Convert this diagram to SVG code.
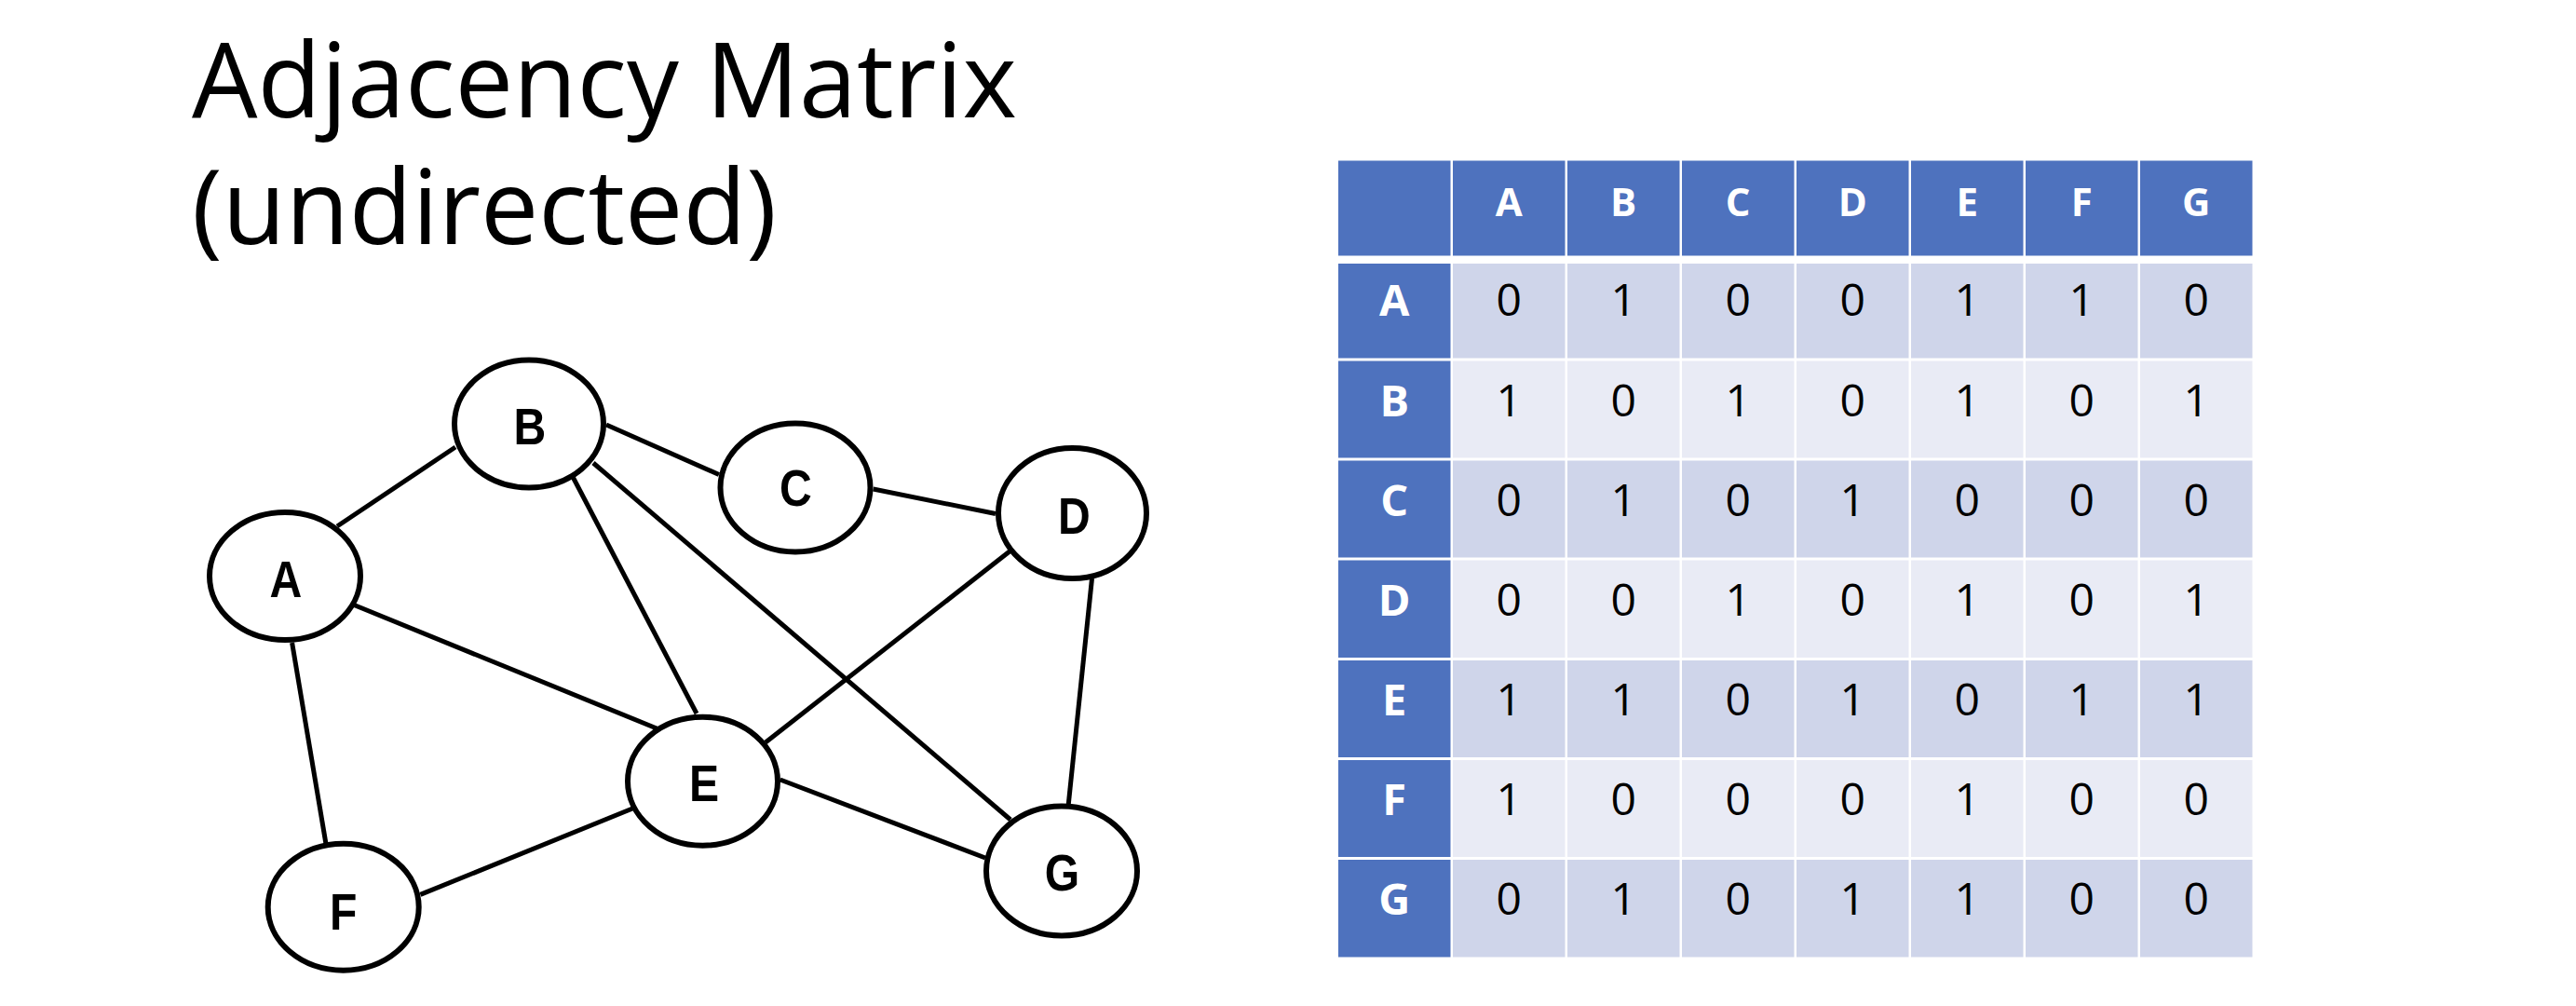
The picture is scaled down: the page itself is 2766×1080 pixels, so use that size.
<svg xmlns="http://www.w3.org/2000/svg" width="2766" height="1080" viewBox="0 0 2766 1080">
<style>
.title{font-family:"Open Sans","Liberation Sans",sans-serif;font-size:112px;font-weight:400;fill:#000}
.edge{stroke:#000;stroke-width:5;stroke-linecap:butt;fill:none}
.node ellipse{fill:#fff;stroke:#000;stroke-width:6}
.node text{font-family:"Liberation Sans",Arial,sans-serif;font-weight:bold;font-size:56px;fill:#000;text-anchor:middle}
.hd{fill:#4E72BE}
.r1{fill:#CFD5EA}
.r2{fill:#E9EBF5}
.th{font-family:"Open Sans","Liberation Sans",sans-serif;font-weight:bold;font-size:42px;fill:#fff;text-anchor:middle}
.rh{font-family:"Open Sans","Liberation Sans",sans-serif;font-weight:bold;font-size:47px;fill:#fff;text-anchor:middle}
.v{font-family:"Open Sans","Liberation Sans",sans-serif;font-size:48px;fill:#000;text-anchor:middle}
</style>
<rect width="2766" height="1080" fill="#fff"/>
<g id="title">
<text class="title" x="206" y="126" textLength="886" lengthAdjust="spacingAndGlyphs">Adjacency Matrix</text>
<text class="title" x="206" y="262" textLength="628" lengthAdjust="spacingAndGlyphs">(undirected)</text>
</g>
<g id="edges">
<line class="edge" x1="362" y1="565" x2="489" y2="480"/>
<line class="edge" x1="379" y1="649" x2="710" y2="784"/>
<line class="edge" x1="313.6" y1="690" x2="350" y2="906"/>
<line class="edge" x1="651" y1="456" x2="772" y2="509.5"/>
<line class="edge" x1="613" y1="508" x2="748" y2="766"/>
<line class="edge" x1="637" y1="497" x2="1085" y2="880"/>
<line class="edge" x1="937.6" y1="525" x2="1069" y2="551.5"/>
<line class="edge" x1="1084" y1="592" x2="822" y2="797"/>
<line class="edge" x1="1172.5" y1="621" x2="1147" y2="866"/>
<line class="edge" x1="451.4" y1="960.4" x2="680.4" y2="867.5"/>
<line class="edge" x1="837.7" y1="837" x2="1058" y2="921"/>
</g>
<g id="node-A" class="node"><ellipse cx="306" cy="618.5" rx="81" ry="68.5"/><text transform="translate(307,641) scale(0.86,1)">A</text></g>
<g id="node-B" class="node"><ellipse cx="568" cy="455" rx="80" ry="68.5"/><text transform="translate(569,477) scale(0.86,1)">B</text></g>
<g id="node-C" class="node"><ellipse cx="854" cy="523.5" rx="80.5" ry="69"/><text transform="translate(854.5,542.5) scale(0.86,1)">C</text></g>
<g id="node-D" class="node"><ellipse cx="1151.5" cy="551" rx="79.5" ry="70"/><text transform="translate(1153.5,573) scale(0.86,1)">D</text></g>
<g id="node-E" class="node"><ellipse cx="754.5" cy="838.7" rx="80.5" ry="69"/><text transform="translate(756,860) scale(0.86,1)">E</text></g>
<g id="node-F" class="node"><ellipse cx="368.7" cy="973.7" rx="81" ry="68"/><text transform="translate(368.7,997.5) scale(0.86,1)">F</text></g>
<g id="node-G" class="node"><ellipse cx="1140" cy="935" rx="81" ry="69.5"/><text transform="translate(1140.5,955.5) scale(0.86,1)">G</text></g>
<g id="matrix">
<g id="header-row">
<rect class="hd" x="1437" y="172.5" width="120.5" height="102"/>
<rect class="hd" x="1560" y="172.5" width="120.5" height="102"/>
<rect class="hd" x="1683" y="172.5" width="120.5" height="102"/>
<rect class="hd" x="1806" y="172.5" width="120.5" height="102"/>
<rect class="hd" x="1929" y="172.5" width="120.5" height="102"/>
<rect class="hd" x="2052" y="172.5" width="120.5" height="102"/>
<rect class="hd" x="2175" y="172.5" width="120.5" height="102"/>
<rect class="hd" x="2298" y="172.5" width="120.5" height="102"/>
<text class="th" x="1620.2" y="232">A</text>
<text class="th" x="1743.2" y="232">B</text>
<text class="th" x="1866.2" y="232">C</text>
<text class="th" x="1989.2" y="232">D</text>
<text class="th" x="2112.2" y="232">E</text>
<text class="th" x="2235.2" y="232">F</text>
<text class="th" x="2358.2" y="232">G</text>
</g>
<g id="row-A">
<rect class="hd" x="1437" y="283" width="120.5" height="101.5"/>
<rect class="r1" x="1560" y="283" width="120.5" height="101.5"/>
<rect class="r1" x="1683" y="283" width="120.5" height="101.5"/>
<rect class="r1" x="1806" y="283" width="120.5" height="101.5"/>
<rect class="r1" x="1929" y="283" width="120.5" height="101.5"/>
<rect class="r1" x="2052" y="283" width="120.5" height="101.5"/>
<rect class="r1" x="2175" y="283" width="120.5" height="101.5"/>
<rect class="r1" x="2298" y="283" width="120.5" height="101.5"/>
<text class="rh" x="1497.2" y="339">A</text>
<text class="v" x="1620.2" y="339">0</text><text class="v" x="1743.2" y="339">1</text><text class="v" x="1866.2" y="339">0</text><text class="v" x="1989.2" y="339">0</text><text class="v" x="2112.2" y="339">1</text><text class="v" x="2235.2" y="339">1</text><text class="v" x="2358.2" y="339">0</text>
</g>
<g id="row-B">
<rect class="hd" x="1437" y="387.5" width="120.5" height="104"/>
<rect class="r2" x="1560" y="387.5" width="120.5" height="104"/>
<rect class="r2" x="1683" y="387.5" width="120.5" height="104"/>
<rect class="r2" x="1806" y="387.5" width="120.5" height="104"/>
<rect class="r2" x="1929" y="387.5" width="120.5" height="104"/>
<rect class="r2" x="2052" y="387.5" width="120.5" height="104"/>
<rect class="r2" x="2175" y="387.5" width="120.5" height="104"/>
<rect class="r2" x="2298" y="387.5" width="120.5" height="104"/>
<text class="rh" x="1497.2" y="446.5">B</text>
<text class="v" x="1620.2" y="446.5">1</text><text class="v" x="1743.2" y="446.5">0</text><text class="v" x="1866.2" y="446.5">1</text><text class="v" x="1989.2" y="446.5">0</text><text class="v" x="2112.2" y="446.5">1</text><text class="v" x="2235.2" y="446.5">0</text><text class="v" x="2358.2" y="446.5">1</text>
</g>
<g id="row-C">
<rect class="hd" x="1437" y="494.5" width="120.5" height="104"/>
<rect class="r1" x="1560" y="494.5" width="120.5" height="104"/>
<rect class="r1" x="1683" y="494.5" width="120.5" height="104"/>
<rect class="r1" x="1806" y="494.5" width="120.5" height="104"/>
<rect class="r1" x="1929" y="494.5" width="120.5" height="104"/>
<rect class="r1" x="2052" y="494.5" width="120.5" height="104"/>
<rect class="r1" x="2175" y="494.5" width="120.5" height="104"/>
<rect class="r1" x="2298" y="494.5" width="120.5" height="104"/>
<text class="rh" x="1497.2" y="553.5">C</text>
<text class="v" x="1620.2" y="553.5">0</text><text class="v" x="1743.2" y="553.5">1</text><text class="v" x="1866.2" y="553.5">0</text><text class="v" x="1989.2" y="553.5">1</text><text class="v" x="2112.2" y="553.5">0</text><text class="v" x="2235.2" y="553.5">0</text><text class="v" x="2358.2" y="553.5">0</text>
</g>
<g id="row-D">
<rect class="hd" x="1437" y="601.5" width="120.5" height="104.5"/>
<rect class="r2" x="1560" y="601.5" width="120.5" height="104.5"/>
<rect class="r2" x="1683" y="601.5" width="120.5" height="104.5"/>
<rect class="r2" x="1806" y="601.5" width="120.5" height="104.5"/>
<rect class="r2" x="1929" y="601.5" width="120.5" height="104.5"/>
<rect class="r2" x="2052" y="601.5" width="120.5" height="104.5"/>
<rect class="r2" x="2175" y="601.5" width="120.5" height="104.5"/>
<rect class="r2" x="2298" y="601.5" width="120.5" height="104.5"/>
<text class="rh" x="1497.2" y="660.5">D</text>
<text class="v" x="1620.2" y="660.5">0</text><text class="v" x="1743.2" y="660.5">0</text><text class="v" x="1866.2" y="660.5">1</text><text class="v" x="1989.2" y="660.5">0</text><text class="v" x="2112.2" y="660.5">1</text><text class="v" x="2235.2" y="660.5">0</text><text class="v" x="2358.2" y="660.5">1</text>
</g>
<g id="row-E">
<rect class="hd" x="1437" y="709" width="120.5" height="104"/>
<rect class="r1" x="1560" y="709" width="120.5" height="104"/>
<rect class="r1" x="1683" y="709" width="120.5" height="104"/>
<rect class="r1" x="1806" y="709" width="120.5" height="104"/>
<rect class="r1" x="1929" y="709" width="120.5" height="104"/>
<rect class="r1" x="2052" y="709" width="120.5" height="104"/>
<rect class="r1" x="2175" y="709" width="120.5" height="104"/>
<rect class="r1" x="2298" y="709" width="120.5" height="104"/>
<text class="rh" x="1497.2" y="767.5">E</text>
<text class="v" x="1620.2" y="767.5">1</text><text class="v" x="1743.2" y="767.5">1</text><text class="v" x="1866.2" y="767.5">0</text><text class="v" x="1989.2" y="767.5">1</text><text class="v" x="2112.2" y="767.5">0</text><text class="v" x="2235.2" y="767.5">1</text><text class="v" x="2358.2" y="767.5">1</text>
</g>
<g id="row-F">
<rect class="hd" x="1437" y="816" width="120.5" height="104"/>
<rect class="r2" x="1560" y="816" width="120.5" height="104"/>
<rect class="r2" x="1683" y="816" width="120.5" height="104"/>
<rect class="r2" x="1806" y="816" width="120.5" height="104"/>
<rect class="r2" x="1929" y="816" width="120.5" height="104"/>
<rect class="r2" x="2052" y="816" width="120.5" height="104"/>
<rect class="r2" x="2175" y="816" width="120.5" height="104"/>
<rect class="r2" x="2298" y="816" width="120.5" height="104"/>
<text class="rh" x="1497.2" y="874.5">F</text>
<text class="v" x="1620.2" y="874.5">1</text><text class="v" x="1743.2" y="874.5">0</text><text class="v" x="1866.2" y="874.5">0</text><text class="v" x="1989.2" y="874.5">0</text><text class="v" x="2112.2" y="874.5">1</text><text class="v" x="2235.2" y="874.5">0</text><text class="v" x="2358.2" y="874.5">0</text>
</g>
<g id="row-G">
<rect class="hd" x="1437" y="923" width="120.5" height="104.5"/>
<rect class="r1" x="1560" y="923" width="120.5" height="104.5"/>
<rect class="r1" x="1683" y="923" width="120.5" height="104.5"/>
<rect class="r1" x="1806" y="923" width="120.5" height="104.5"/>
<rect class="r1" x="1929" y="923" width="120.5" height="104.5"/>
<rect class="r1" x="2052" y="923" width="120.5" height="104.5"/>
<rect class="r1" x="2175" y="923" width="120.5" height="104.5"/>
<rect class="r1" x="2298" y="923" width="120.5" height="104.5"/>
<text class="rh" x="1497.2" y="981.5">G</text>
<text class="v" x="1620.2" y="981.5">0</text><text class="v" x="1743.2" y="981.5">1</text><text class="v" x="1866.2" y="981.5">0</text><text class="v" x="1989.2" y="981.5">1</text><text class="v" x="2112.2" y="981.5">1</text><text class="v" x="2235.2" y="981.5">0</text><text class="v" x="2358.2" y="981.5">0</text>
</g>
</g>
</svg>
